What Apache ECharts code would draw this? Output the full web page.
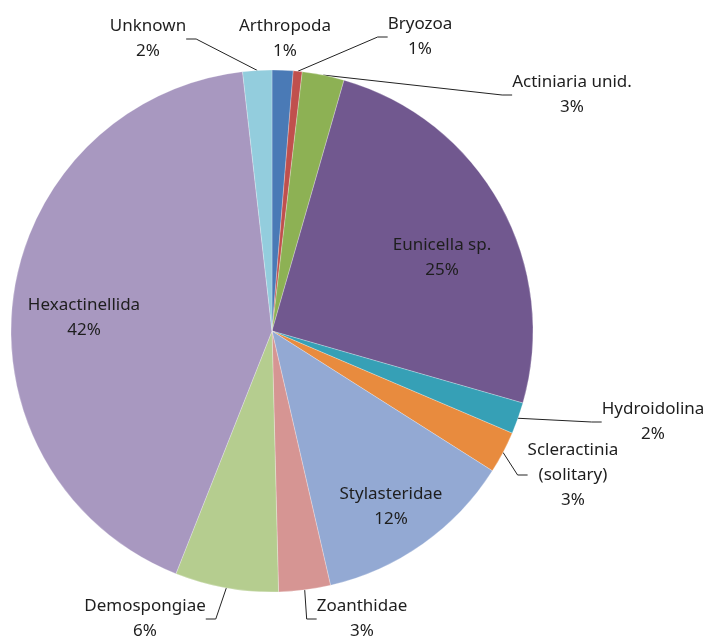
<!DOCTYPE html>
<html>
<head>
<meta charset="utf-8">
<script src="https://cdn.jsdelivr.net/npm/echarts@6/dist/echarts.min.js"></script>
<style>
  html, body { margin: 0; padding: 0; background: #fff; }
  #taxaPie { width: 712px; height: 643px; }
</style>
</head>
<body>
<div id="taxaPie"></div>
<script>
// share of observations by taxon, clockwise from 12 o'clock
var taxa = ['Arthropoda', 'Bryozoa', 'Actiniaria unid.', 'Eunicella sp.', 'Hydroidolina',
  'Scleractinia\n(solitary)', 'Stylasteridae', 'Zoanthidae', 'Demospongiae', 'Hexactinellida', 'Unknown'];
var shares = [1.3, 0.55, 2.6, 25.0, 1.95, 2.6, 12.4, 3.2, 6.4, 42.2, 1.8];

var sliceColors = ['#4a7ab6', '#c0504d', '#8db154', '#71588f', '#36a0b6', '#e88b3e',
  '#93a9d3', '#d69593', '#b5cd8f', '#a898c0', '#93cddd'];
// label anchor (centre of text block) for each slice
var labelSpots = [[285, 39], [420, 37], [572, 95], [442, 258], [653, 422],
  [573, 475], [391, 507], [362, 619], [145, 619], [84, 318], [148, 39]];
var insideLabels = ['Eunicella sp.', 'Stylasteridae', 'Hexactinellida'];

var myChart = echarts.init(document.getElementById('taxaPie'));

var pieData = taxa.map(function (name, i) {
  var item = { name: name, value: shares[i], itemStyle: { color: sliceColors[i] } };
  if (insideLabels.indexOf(name) >= 0 || name === 'Arthropoda') {
    item.labelLine = { show: false };
  }
  return item;
});

myChart.setOption({
  animation: false,
  series: [
    {
      type: 'pie',
      center: [272, 331],
      radius: 261,
      startAngle: 90,
      clockwise: true,
      avoidLabelOverlap: false,
      itemStyle: { borderColor: 'rgba(255,255,255,0.5)', borderWidth: 0.5 },
      label: {
        show: true,
        position: 'outside',
        formatter: function (p) {
          return p.name + '\n' + Math.round(p.percent) + '%';
        },
        fontFamily: 'Noto Sans',
        fontSize: 17,
        lineHeight: 25,
        color: '#1e1e1e',
        align: 'center'
      },
      labelLine: {
        show: true,
        length: 10,
        length2: 10,
        lineStyle: { color: '#222', width: 1 }
      },
      labelLayout: function (params) {
        var spot = labelSpots[params.dataIndex];
        return {
          x: spot[0],
          y: spot[1],
          align: 'center',
          verticalAlign: 'middle'
        };
      },
      data: pieData
    }
  ]
});
</script>
</body>
</html>
